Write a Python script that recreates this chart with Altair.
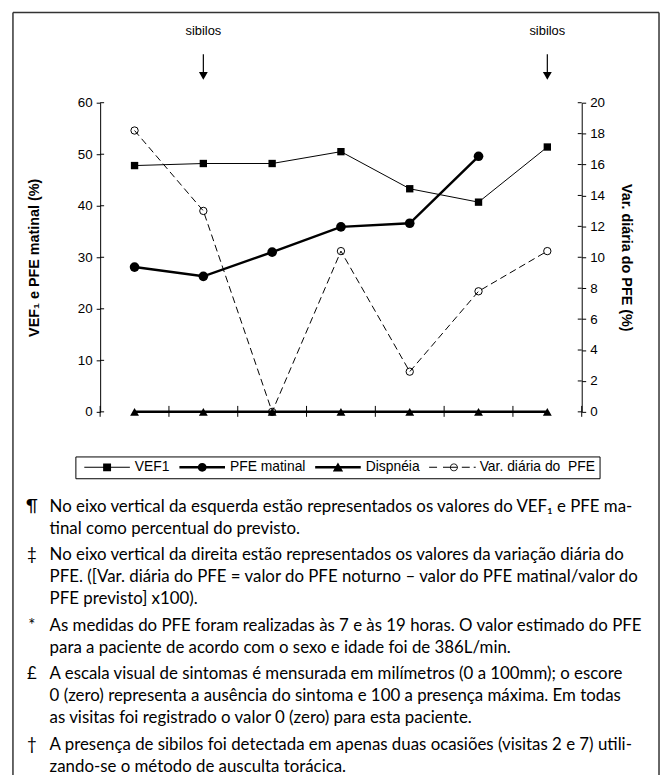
import altair as alt
import pandas as pd

# ---------------- data ----------------
visitas = [1, 2, 3, 4, 5, 6, 7]
vef1 = [47.8, 48.2, 48.2, 50.5, 43.3, 40.7, 51.4]
pfe_matinal = [28.1, 26.3, 31.0, 35.9, 36.6, 49.6, None]
dispneia = [0, 0, 0, 0, 0, 0, 0]
var_diaria = [18.2, 13.0, 0.0, 10.4, 2.6, 7.8, 10.4]
sibilos_visitas = [2, 7]
series = ["VEF1", "PFE matinal", "Dispnéia", "Var. diária do\u00a0 PFE"]
left_ticks = [0, 10, 20, 30, 40, 50, 60]
right_ticks = [0, 2, 4, 6, 8, 10, 12, 14, 16, 18, 20]
x_bounds = [0.5, 1.5, 2.5, 3.5, 4.5, 5.5, 6.5, 7.5]
left_title = "VEF\u2081 e PFE matinal (%)"
right_title = "Var. diária do PFE (%)"
notas_simbolos = ["¶", "‡", "*", "£", "†"]
notas_textos = [
    ["No eixo vertical da esquerda estão representados os valores do VEF\u2081 e PFE ma-",
     "tinal como percentual do previsto."],
    ["No eixo vertical da direita estão representados os valores da variação diária do",
     "PFE. ([Var. diária do PFE = valor do PFE noturno – valor do PFE matinal/valor do",
     "PFE previsto] x100)."],
    ["As medidas do PFE foram realizadas às 7 e às 19 horas. O valor estimado do PFE",
     "para a paciente de acordo com o sexo e idade foi de 386L/min."],
    ["A escala visual de sintomas é mensurada em milímetros (0 a 100mm); o escore",
     "0 (zero) representa a ausência do sintoma e 100 a presença máxima. Em todas",
     "as visitas foi registrado o valor 0 (zero) para esta paciente."],
    ["A presença de sibilos foi detectada em apenas duas ocasiões (visitas 2 e 7) utili-",
     "zando-se o método de ausculta torácica."],
]

# ---------------- layout ----------------
W, H = 486, 312
FONT = "Arial, Liberation Sans, sans-serif"
NOTE_FONT = "Lato"

df = pd.DataFrame({"visita": visitas, "vef1": vef1, "pfe": pfe_matinal,
                   "disp": dispneia, "var": var_diaria})
one = alt.InlineData(values=[{"k": 0}])

xs = alt.Scale(domain=[0.5, 7.5], nice=False, zero=False)
x_enc = alt.X("visita:Q", scale=xs,
              axis=alt.Axis(values=visitas, tickSize=0, labelPadding=15, grid=False,
                            title=None, domainColor="black", labelFontSize=13.5,
                            labelFont=FONT, labelColor="black"))

left_axis = alt.Axis(values=left_ticks, tickSize=4, labelPadding=4, grid=False,
                     title=left_title, titlePadding=36, titleFontSize=14.5,
                     titleFont=FONT, titleFontWeight="bold", labelFontSize=13.5,
                     labelFont=FONT, domainColor="black", tickColor="black",
                     labelColor="black", titleColor="black")
right_axis = alt.Axis(values=right_ticks, tickSize=4, labelPadding=4, grid=False,
                      title=right_title, titlePadding=14, titleFontSize=14.5,
                      titleFont=FONT, titleFontWeight="bold", labelFontSize=13.5,
                      labelFont=FONT, domainColor="black", tickColor="black",
                      labelColor="black", titleColor="black", orient="right")

ls = alt.Scale(domain=[0, 60], nice=False)
rs = alt.Scale(domain=[0, 20], nice=False)

base = alt.Chart(df).encode(x=x_enc)

def yl(field):
    return alt.Y(f"{field}:Q", scale=ls, axis=left_axis, title=left_title)

vef_line = base.mark_line(color="black", strokeWidth=1).encode(y=yl("vef1"))
vef_pts = base.mark_point(shape="square", filled=True, color="black", size=55, opacity=1).encode(y=yl("vef1"))
pfe_line = base.mark_line(color="black", strokeWidth=2.5).encode(y=yl("pfe"))
pfe_pts = base.mark_point(shape="circle", filled=True, color="black", size=95, opacity=1).encode(y=yl("pfe"))
disp_line = base.mark_line(color="black", strokeWidth=2.5).encode(y=yl("disp"))
disp_pts = base.mark_point(shape="triangle-up", filled=True, color="black", size=80, opacity=1).encode(y=yl("disp"))

left_in_ticks = alt.Chart(pd.DataFrame({"t": left_ticks})).mark_rule(color="black").encode(
    y=alt.Y("t:Q", scale=ls, axis=left_axis, title=left_title),
    x=alt.value(0), x2=alt.value(4))

xticks = alt.Chart(pd.DataFrame({"b": x_bounds})).mark_rule(color="black").encode(
    x=alt.X("b:Q", scale=xs, axis=None), y=alt.value(H - 6), y2=alt.value(H + 5))

sib = alt.Chart(pd.DataFrame({"visita": sibilos_visitas}))
sib_text = sib.mark_text(text="sibilos", font=FONT, fontSize=13, color="black").encode(
    x=alt.X("visita:Q", scale=xs, axis=None), y=alt.value(-72))
sib_rule = sib.mark_rule(color="black", strokeWidth=1.2).encode(
    x=alt.X("visita:Q", scale=xs, axis=None), y=alt.value(-49), y2=alt.value(-31))
sib_head = sib.mark_point(shape="triangle-down", filled=True, color="black", size=80, opacity=1).encode(
    x=alt.X("visita:Q", scale=xs, axis=None), y=alt.value(-27))

# legend symbols: filled SVG paths (line segment + marker), unit = 2px
paths = [
    "M-1,-0.25H22V0.25H-1Z M8.5,-2H12.5V2H8.5Z",
    "M-1,-0.625H22V0.625H-1Z M8.25,0A2.25,2.25 0 1,1 12.75,0A2.25,2.25 0 1,1 8.25,0Z",
    "M-1,-0.625H22V0.625H-1Z M10.5,-2.5L13.1,2.1L7.9,2.1Z",
    "M-1,-0.25H3V0.25H-1Z M6,-0.25H13.5V0.25H6Z M15.5,-0.25H19.5V0.25H15.5Z "
    "M21.5,-0.25H22.5V0.25H21.5Z "
    "M9.5,0A2,2 0 1,1 13.5,0A2,2 0 1,1 9.5,0Z M9.9,0A1.6,1.6 0 1,0 13.1,0A1.6,1.6 0 1,0 9.9,0Z",
]
leg = alt.Legend(title=None, orient="none", legendX=-25, legendY=357, direction="horizontal")
legend_layer = alt.Chart(pd.DataFrame({"serie": series})).transform_filter("false").mark_point(
    size=16, filled=True, color="black", opacity=1).encode(
    shape=alt.Shape("serie:N", scale=alt.Scale(domain=series, range=paths), legend=leg),
)

# footnotes
note_layers = []
y0, lh, gap = 408, 22, 5
y = y0
for sym, lines in zip(notas_simbolos, notas_textos):
    note_layers.append(alt.Chart(one).mark_text(
        text=sym, font=NOTE_FONT, fontSize=17, align="center", baseline="middle", color="black"
    ).encode(x=alt.value(-69), y=alt.value(y)))
    note_layers.append(alt.Chart(one).mark_text(
        text=lines, font=NOTE_FONT, fontSize=17, align="left", baseline="middle",
        lineHeight=lh, color="black"
    ).encode(x=alt.value(-51), y=alt.value(y)))
    y += lh * len(lines) + gap

# border
bx0, bx1, by0, by1 = -88, 564, -91, 684
border = [
    alt.Chart(one).mark_rule(color="#333", strokeWidth=1.5).encode(
        x=alt.value(bx0), x2=alt.value(bx1), y=alt.value(by0)),
    alt.Chart(one).mark_rule(color="#333", strokeWidth=1.5).encode(
        x=alt.value(bx0), y=alt.value(by0), y2=alt.value(by1)),
    alt.Chart(one).mark_rule(color="#333", strokeWidth=1.5).encode(
        x=alt.value(bx1), y=alt.value(by0), y2=alt.value(by1)),
]

left_group = alt.layer(vef_line, vef_pts, pfe_line, pfe_pts, disp_line, disp_pts,
                       left_in_ticks, xticks, sib_text, sib_rule, sib_head,
                       legend_layer, *note_layers, *border)

var_line = base.mark_line(color="black", strokeWidth=1, strokeDash=[7, 4]).encode(
    y=alt.Y("var:Q", scale=rs, axis=right_axis, title=right_title))
var_pts = base.mark_point(shape="circle", filled=False, color="black", size=55,
                          strokeWidth=1, opacity=1).encode(
    y=alt.Y("var:Q", scale=rs, axis=right_axis, title=right_title))
right_in_ticks = alt.Chart(pd.DataFrame({"t": right_ticks})).mark_rule(color="black").encode(
    y=alt.Y("t:Q", scale=rs, axis=right_axis, title=right_title),
    x=alt.value(W - 4), x2=alt.value(W))
right_group = alt.layer(var_line, var_pts, right_in_ticks)

chart = alt.layer(left_group, right_group).resolve_scale(y="independent").properties(
    width=W, height=H, padding={"left": 4, "top": 0, "right": 0, "bottom": 0}
).configure_view(stroke=None).configure_legend(
    strokeColor="black", padding=4, labelFont=FONT, labelFontSize=14, labelColor="black",
    labelOffset=42, columnPadding=4, symbolSize=16, cornerRadius=0,
    symbolStrokeWidth=0
)

chart.save("out.html", embed_options={"renderer": "svg", "actions": False})
